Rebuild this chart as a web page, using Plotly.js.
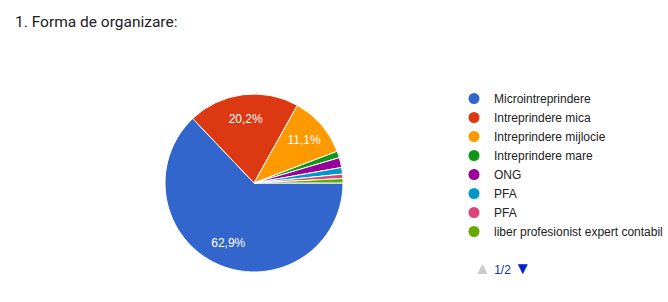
<!DOCTYPE html>
<html>
<head>
<meta charset="utf-8">
<script src="https://cdn.plot.ly/plotly-3.0.1.min.js"></script>
<style>html,body{margin:0;padding:0;background:#fff;}#chart{width:668px;height:302px;}</style>
</head>
<body>
<div id="chart"></div>
<script>
const categories = ["Microintreprindere", "Intreprindere mica", "Intreprindere mijlocie", "Intreprindere mare", "ONG", "PFA", "PFA", "liber profesionist expert contabil"];
const shares = [62.9, 20.2, 11.1, 1.2, 1.8, 1.2, 0.8, 0.8];
const colors = ["#3366cc", "#dc3912", "#ff9900", "#109618", "#990099", "#0099c6", "#dd4477", "#66aa00"];
const titleText = "1. Forma de organizare:";
const pagerText = "1/2";

const sliceLabels = categories.map((c, i) => c + "\u200b".repeat(i));
const pieDomain = {x: [165/668, 343/668], y: [1 - 272/302, 1 - 94/302]};

// full pie: the coloured slices
const pie = {
  type: "pie",
  labels: sliceLabels,
  values: shares,
  sort: false,
  direction: "clockwise",
  rotation: 90,
  marker: {colors: colors, line: {color: "#ffffff", width: 1}},
  textinfo: "none",
  domain: pieDomain,
  showlegend: false,
  hoverinfo: "skip"
};

// transparent ring on top carrying the percent labels further out
const labelRing = {
  type: "pie",
  labels: sliceLabels,
  values: shares,
  sort: false,
  direction: "clockwise",
  rotation: 90,
  hole: 0.46,
  marker: {colors: colors.map(() => "rgba(0,0,0,0)"), line: {width: 0}},
  texttemplate: shares.map(v => v >= 5 ? "%{percent:.1%}" : ""),
  textposition: "inside",
  insidetextorientation: "horizontal",
  textfont: {family: "Liberation Sans, Arial", size: 12, color: "#ffffff"},
  domain: pieDomain,
  showlegend: false,
  hoverinfo: "skip"
};

const legendTraces = categories.map((c, i) => ({
  type: "scatter", mode: "markers", x: [null], y: [null], name: c,
  marker: {symbol: "circle", size: 11, color: colors[i]},
  showlegend: true, hoverinfo: "skip"
}));

const layout = {
  width: 668, height: 302,
  margin: {l: 0, r: 0, t: 0, b: 0},
  paper_bgcolor: "#ffffff", plot_bgcolor: "#ffffff",
  separators: ",.",
  xaxis: {visible: false}, yaxis: {visible: false},
  showlegend: true,
  legend: {
    x: 1, xanchor: "right", y: 1 - 84/302, yanchor: "top",
    font: {family: "Liberation Sans, Arial", size: 12, color: "#222222"},
    itemclick: false, itemdoubleclick: false, tracegroupgap: 0,
    bgcolor: "rgba(0,0,0,0)"
  },
  annotations: [
    {text: titleText, x: 12.5/668, y: 1 - 22.5/302, xref: "paper", yref: "paper", xanchor: "left", yanchor: "middle",
     showarrow: false, font: {family: "Roboto", size: 15.5, color: "#202124"}},
    {text: '<span style="color:#cccccc;font-size:17px">\u25B2</span> <span style="color:#1a3399">' + pagerText + '</span> <span style="color:#0022cc;font-size:17px">\u25BC</span>',
     x: 472/668, y: 1 - 268/302, xref: "paper", yref: "paper", xanchor: "left", yanchor: "middle",
     showarrow: false, font: {family: "Liberation Sans, Arial", size: 12, color: "#1a3399"}}
  ]
};

Plotly.newPlot("chart", [pie, labelRing].concat(legendTraces), layout, {staticPlot: true, displayModeBar: false});
</script>
</body>
</html>
